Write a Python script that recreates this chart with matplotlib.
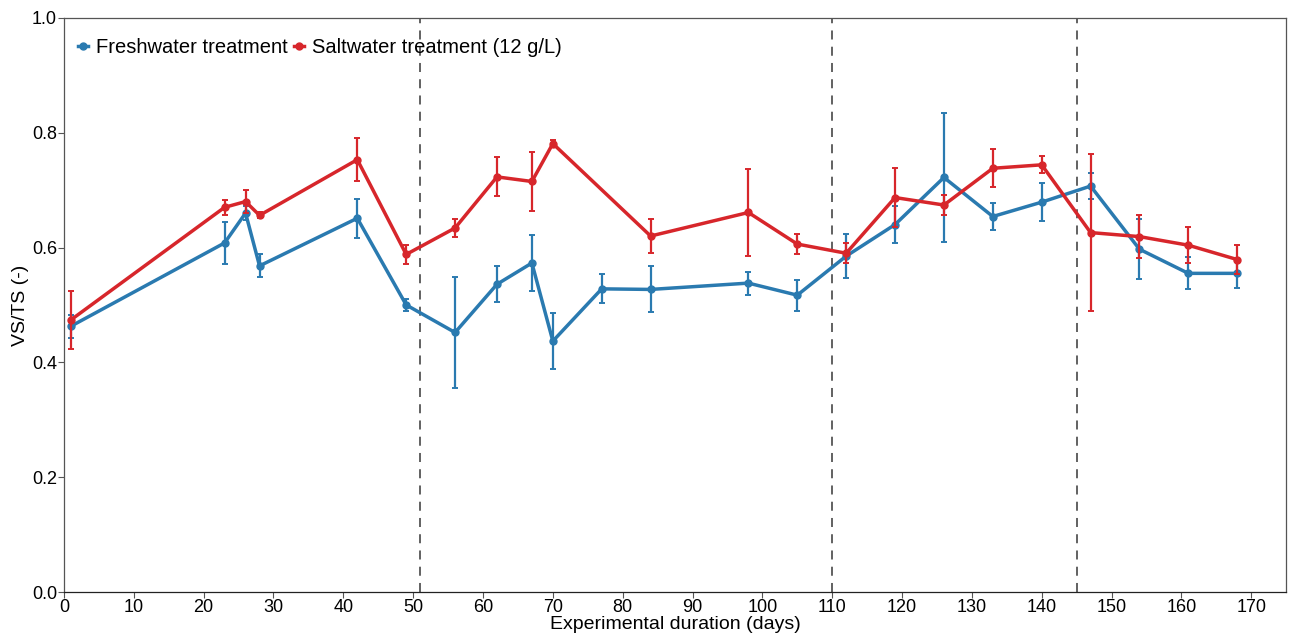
import matplotlib
matplotlib.use("Agg")
from matplotlib import pyplot as plt

plt.rcParams['font.family'] = ['Liberation Sans', 'DejaVu Sans']

# Freshwater treatment
fresh_days = [1, 23, 26, 28, 42, 49, 56, 62, 67, 70, 77, 84, 98, 105, 112, 119, 126, 133, 140, 147, 154, 161, 168]
fresh_mean = [0.463, 0.608, 0.660, 0.568, 0.651, 0.500, 0.452, 0.536, 0.573, 0.437, 0.528, 0.527, 0.538, 0.517,
              0.585, 0.640, 0.722, 0.654, 0.679, 0.707, 0.597, 0.555, 0.555]
fresh_err = [0.020, 0.036, 0.012, 0.020, 0.034, 0.010, 0.096, 0.031, 0.049, 0.049, 0.025, 0.040, 0.020, 0.027,
             0.038, 0.032, 0.113, 0.024, 0.033, 0.023, 0.052, 0.028, 0.025]

# Saltwater treatment (12 g/L)
salt_days = [1, 23, 26, 28, 42, 49, 56, 62, 67, 70, 84, 98, 105, 112, 119, 126, 133, 140, 147, 154, 161, 168]
salt_mean = [0.474, 0.670, 0.680, 0.656, 0.753, 0.588, 0.634, 0.723, 0.715, 0.781, 0.620, 0.661, 0.606,
             0.590, 0.687, 0.674, 0.738, 0.744, 0.626, 0.619, 0.604, 0.579]
salt_err = [0.050, 0.013, 0.020, 0.005, 0.037, 0.016, 0.015, 0.034, 0.052, 0.006, 0.030, 0.075, 0.018,
            0.017, 0.052, 0.018, 0.033, 0.015, 0.137, 0.037, 0.031, 0.025]

phase_days = [51, 110, 145]

blue = '#2a7ab0'
red = '#d7262b'

fig = plt.figure(figsize=(12.9, 6.37), dpi=100)
ax = fig.add_axes([0.0496, 0.0706, 0.9474, 0.9014])

for d in phase_days:
    ax.axvline(d, color='#555555', linestyle=(0, (5, 4)), linewidth=1.3, zorder=1)

ax.errorbar(fresh_days, fresh_mean, yerr=fresh_err, color=blue, linewidth=2.5, marker='o', markersize=5,
            elinewidth=1.6, capsize=2, capthick=1.4, label='Freshwater treatment', zorder=3)
ax.errorbar(salt_days, salt_mean, yerr=salt_err, color=red, linewidth=2.5, marker='o', markersize=5,
            elinewidth=1.6, capsize=2, capthick=1.4, label='Saltwater treatment (12 g/L)', zorder=4)

ax.set_xlim(0, 175)
ax.set_ylim(0, 1.0)
ax.set_xticks(range(0, 171, 10))
ax.set_yticks([0.0, 0.2, 0.4, 0.6, 0.8, 1.0])
ax.set_yticklabels(['0.0', '0.2', '0.4', '0.6', '0.8', '1.0'])
ax.tick_params(labelsize=13, length=4, width=0.8, color='#555555', pad=1)
for s in ax.spines.values():
    s.set_color('#555555')
    s.set_linewidth(0.9)
ax.spines['bottom'].set_color('#222222')

ax.set_xlabel('Experimental duration (days)', fontsize=14, labelpad=0)
ax.set_ylabel('VS/TS (-)', fontsize=14, labelpad=2)

handles, labels = ax.get_legend_handles_labels()
handles = [h[0] for h in handles]
ax.legend(handles, labels, loc='upper left', ncol=2, frameon=False, fontsize=14.5,
          handlelength=0.5, handletextpad=0.4, columnspacing=0.3, borderaxespad=0.3,
          bbox_to_anchor=(0.0, 0.99))

fig.savefig('out.png', dpi=100)
